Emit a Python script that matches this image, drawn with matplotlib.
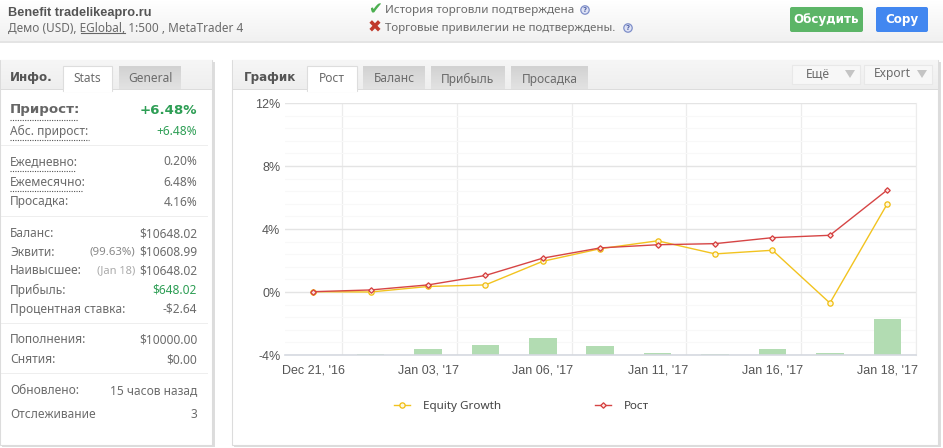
import numpy as np
import matplotlib
matplotlib.use("Agg")

import matplotlib.pyplot as plt
from matplotlib.lines import Line2D
from matplotlib.patches import FancyBboxPatch, Polygon, Rectangle, Circle

W, H = 943, 448

dates = ["Dec 21, '16", "", "Jan 03, '17", "", "Jan 06, '17", "", "Jan 11, '17", "", "Jan 16, '17", "", "Jan 18, '17"]
equity = [0.02, 0.0, 0.35, 0.45, 1.95, 2.75, 3.25, 2.42, 2.65, -0.7, 5.6]
growth = [0.02, 0.13, 0.45, 1.05, 2.15, 2.8, 3.0, 3.07, 3.45, 3.6, 6.48]
bars = [0.0, 0.06, 0.35, 0.62, 1.05, 0.57, 0.12, 0.05, 0.35, 0.12, 2.3]
yticks = [-4, 0, 4, 8, 12]

stats_labels = ["Абс. прирост:", "Ежедневно:", "Ежемесячно:", "Просадка:", "Баланс:", "Эквити:", "Наивысшее:", "Прибыль:",
	"Процентная ставка:", "Пополнения:", "Снятия:", "Обновлено:", "Отслеживание"]
stats_values = ["+6.48%", "0.20%", "6.48%", "4.16%", "$10648.02", "$10608.99", "$10648.02", "$648.02",
	"-$2.64", "$10000.00", "$0.00", "15 часов назад", "3"]
stats_y = [130.5, 160.5, 181.5, 201, 232.5, 251, 270, 289, 308, 338.5, 358.5, 389.5, 413]

TEXT = "#6b6b6b"
GREEN = "#2e9e55"
UI = ["Noto Sans", "DejaVu Sans"]

plt.rcParams["font.family"] = UI

fig = plt.figure(figsize=(W / 100, H / 100), dpi=100, facecolor="white")

bg = fig.add_axes([0, 0, 1, 1])
bg.set_xlim(0, W)
bg.set_ylim(H, 0)
bg.axis("off")


def box(x0, y0, x1, y1, color, edge="none", z=1):
	bg.add_patch(Rectangle((x0, y0), x1 - x0, y1 - y0, facecolor=color, edgecolor=edge, lw=0.8, zorder=z))


def gradient(x0, y0, x1, y1, top, bottom, z=1):
	a = np.array(matplotlib.colors.to_rgb(top))
	b = np.array(matplotlib.colors.to_rgb(bottom))
	t = np.linspace(0, 1, 32)[:, None, None]
	bg.imshow(a * (1 - t) + b * t, extent=(x0, x1, y1, y0), aspect="auto", zorder=z)
	bg.set_xlim(0, W)
	bg.set_ylim(H, 0)


def label(x, y, s, size=8.6, color=TEXT, ha="left", **kw):
	return bg.text(x, y + 1, s, fontsize=size, color=color, ha=ha, va="center", zorder=5, **kw)


def button(x0, y0, x1, y1, color):
	bg.add_patch(FancyBboxPatch((x0 + 2, y0 + 2), x1 - x0 - 4, y1 - y0 - 4, boxstyle="round,pad=2", facecolor=color, edgecolor="none", zorder=3))


def help_icon(x, y):
	bg.add_patch(Circle((x, y), 4.2, facecolor="#dfe3f5", edgecolor="#7f8fc9", lw=0.9, zorder=5))
	label(x, y - 1, "?", size=5, color="#5566aa", ha="center", fontweight="bold", family="DejaVu Sans")


def dotted(x0, x1, y):
	bg.plot([x0, x1], [y, y], color="#555555", lw=0.8, ls=(0, (1, 1.2)), zorder=5)


# header strip
gradient(0, 0, W, 41, "#ffffff", "#f1f1f1")
box(0, 41, W, 43, "#e4e4e4")
label(8, 12, "Benefit tradelikeapro.ru", size=9.2, color="#555555", fontweight="bold", family="Liberation Sans")
label(8, 27, "Демо (USD), EGlobal, 1:500 , MetaTrader 4", size=8.5)
bg.plot([81, 125], [33.5, 33.5], color="#666666", lw=0.8, zorder=5)
label(375, 8, "✔", size=12, color="#4caf50", ha="center", family="DejaVu Sans")
label(375, 27, "✖", size=12, color="#c0392b", ha="center", family="DejaVu Sans")
label(385, 10, "История торговли подтверждена", size=8.4)
label(385, 27, "Торговые привилегии не подтверждены.", size=8.3)
help_icon(585, 10)
help_icon(628, 28)
button(790, 7, 863, 32, "#5cb567")
button(876, 7, 928, 32, "#4287f0")
label(826, 19, "Обсудить", size=8.6, color="white", ha="center", fontweight="bold", family="DejaVu Sans")
label(902, 19, "Copy", size=8.6, color="white", ha="center", fontweight="bold", family="DejaVu Sans")

# panels
for x0, x1 in [(0, 212), (232, 938)]:
	box(x0 + 2, 62, x1 + 3, 447, "#dddddd", z=0.5)
	box(x0, 60, x1, 445, "white", edge="#dcdcdc", z=1)
	gradient(x0 + 0.5, 60.5, x1 - 0.5, 90, "#f6f6f6", "#eeeeee", z=1.5)
	box(x0, 89.5, x1, 90.5, "#dcdcdc", z=1.6)


def tab(x0, x1, s, active=False):
	if active:
		box(x0, 66, x1, 91, "white", edge="#dddddd", z=2)
		box(x0 + 0.5, 89, x1 - 0.5, 92, "white", z=2.1)
	else:
		gradient(x0, 67, x1, 89.5, "#d2d2d2", "#e2e2e2", z=2)
	label((x0 + x1) / 2, 78, s, size=8.6, ha="center")


label(10, 77, "Инфо.", size=8.6, color="#555555", fontweight="bold", family="DejaVu Sans")
tab(63, 112, "Stats", True)
tab(119, 181, "General")
label(244, 77, "График", size=8.6, color="#555555", fontweight="bold", family="DejaVu Sans")
tab(307, 357, "Рост", True)
tab(363, 425, "Баланс")
tab(431, 505, "Прибыль")
tab(511, 588, "Просадка")

for x0, x1, s in [(792, 860, "Ещё"), (864, 932, "Export")]:
	box(x0, 65, x1, 84, "#f7f7f7", edge="#e8e8e8", z=2)
	label(x0 + 26 if s == "Ещё" else x0 + 28, 73, s, size=8.6, ha="center")
	bg.add_patch(Polygon([(x1 - 15, 70), (x1 - 5, 70), (x1 - 10, 78)], facecolor="#c4c4c4", zorder=3))

# stats panel
label(10, 109, "Прирост:", size=9.6, color="#666666", fontweight="bold", family="DejaVu Sans")
label(197, 109, "+6.48%", size=9.6, color=GREEN, ha="right", fontweight="bold", family="DejaVu Sans")
dotted(10, 78, 120)
for name, value, y in zip(stats_labels, stats_values, stats_y):
	color = GREEN if value in ("+6.48%", "$648.02") else TEXT
	label(10, y, name)
	label(197, y, value, color=color, ha="right")
dotted(10, 89, 140)
dotted(10, 76, 171)
dotted(10, 83, 191)
label(135, 251, "(99.63%)", size=8.2, color="#888888", ha="right")
label(135, 270, "(Jan 18)", size=8, color="#aaaaaa", ha="right")
for y in [145, 216, 323, 373]:
	box(0.5, y, 208, y + 1, "#eeeeee", z=2)

# chart
ax = fig.add_axes([284.5 / W, 1 - 355 / H, (916 - 284.5) / W, 252 / H])
ax.patch.set_alpha(0)
ax.set_xlim(-0.5, 10.5)
ax.set_ylim(-4, 12)
x = np.arange(len(dates))

ax.set_yticks(yticks)
ax.set_yticklabels([f"{v}%" for v in yticks])
ax.set_yticks(np.arange(-4, 12, 0.8), minor=True)
ax.set_xticks(x[::2])
ax.set_xticklabels(dates[::2])
ax.set_xticks(x[::2] + 0.5, minor=True)
ax.tick_params(which="both", length=0)
ax.tick_params(axis="both", labelsize=9, labelcolor="#555555", labelfontfamily="Liberation Sans")
ax.tick_params(axis="x", pad=7)
ax.tick_params(axis="y", pad=3)
ax.grid(True, axis="y", which="major", color="#e4e4e4", lw=1)
ax.grid(True, axis="y", which="minor", color="#f8f8f8", lw=0.8)
ax.grid(True, axis="x", which="minor", color="#ececec", lw=0.9)
ax.set_axisbelow(True)
for side in ["top", "left"]:
	ax.spines[side].set_visible(False)
ax.spines["right"].set_color("#ececec")
ax.spines["bottom"].set_color("#d5d9e0")
ax.spines["bottom"].set_linewidth(1.2)

yellow = dict(color="#f2c31f", lw=1.0, marker="o", ms=3.8, mfc="#fff8dc", mec="#f0bd10", mew=0.9)
red = dict(color="#d64545", lw=1.0, marker="D", ms=2.8, mfc="#fbe0dc", mec="#d43c3c", mew=0.9)

ax.bar(x, bars, bottom=-4, width=0.48, color="#b2dcb2", zorder=2)
ax.plot(x, equity, zorder=3, **yellow)
ax.plot(x, growth, zorder=4, **red)

handles = [Line2D([], [], **yellow), Line2D([], [], **red)]
ax.legend(handles, ["Equity Growth", "Рост"], ncols=2, frameon=False, loc="center left",
	bbox_to_anchor=(394 / W, 1 - 406.5 / H), bbox_transform=fig.transFigure, fontsize=8.4,
	borderpad=0, borderaxespad=0, handlelength=1.37, handletextpad=1.1, columnspacing=8.1, labelcolor="#444444")

fig.savefig("out.png", dpi=100, facecolor="white")
